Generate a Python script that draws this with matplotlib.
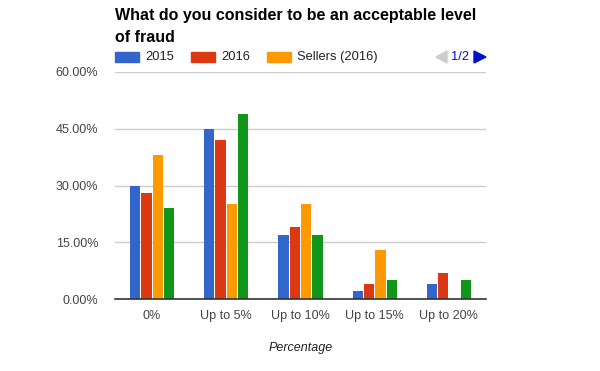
import numpy as np
import matplotlib
matplotlib.use("Agg")
import matplotlib.pyplot as plt
from matplotlib.patches import Rectangle, Polygon

# data
categories = ["0%", "Up to 5%", "Up to 10%", "Up to 15%", "Up to 20%"]
series_names = ["2015", "2016", "Sellers (2016)", "Buyers (2016)"]
v2015 = [30, 45, 17, 2, 4]
v2016 = [28, 42, 19, 4, 7]
sellers2016 = [38, 25, 25, 13, 0]
buyers2016 = [24, 49, 17, 5, 5]
yticks = [0, 15, 30, 45, 60]

colors = ["#3366cc", "#dc3912", "#ff9900", "#109618"]

plt.rcParams["font.family"] = ["Liberation Sans", "DejaVu Sans"]

W, H = 600, 371
fig = plt.figure(figsize=(W / 100, H / 100), dpi=100)
ax = fig.add_axes([115 / W, 1 - 299 / H, 371 / W, 227 / H])

x = np.arange(len(categories))
slot = 0.153
values = [v2015, v2016, sellers2016, buyers2016]
for i, (vals, c) in enumerate(zip(values, colors)):
    ax.bar(x + (i - 1.5) * slot, vals, width=slot - 0.014, color=c, zorder=3)

ax.set_xlim(-0.5, len(categories) - 0.5)
ax.set_ylim(0, 60)
ax.set_yticks(yticks)
ax.set_yticklabels(["%.2f%%" % t for t in yticks])
ax.set_xticks(x)
ax.set_xticklabels(categories)
ax.tick_params(axis="both", length=0, colors="#444444", labelsize=9)
ax.tick_params(axis="y", pad=12)
ax.tick_params(axis="x", pad=8)
ax.grid(axis="y", color="#cccccc", linewidth=1, zorder=0)
for s in ["top", "right", "left"]:
    ax.spines[s].set_visible(False)
ax.spines["bottom"].set_color("#333333")
ax.spines["bottom"].set_linewidth(1.2)
ax.spines["bottom"].set_zorder(4)
ax.set_xlabel("Percentage", fontstyle="italic", color="#222222", fontsize=9, labelpad=14)

# title
fig.text(115 / W, 1 - 8 / H, "What do you consider to be an acceptable level\nof fraud",
         ha="left", va="top", fontsize=11.5, fontweight="bold", linespacing=1.6)

# legend (page 1 of 2)
leg_y = 1 - 57 / H
xs = [115, 191, 267]
for name, c, lx in zip(series_names[:3], colors[:3], xs):
    fig.patches.append(Rectangle((lx / W, leg_y - 5 / H), 24 / W, 10 / H,
                                 transform=fig.transFigure, color=c))
    fig.text((lx + 30) / W, leg_y, name, ha="left", va="center",
             fontsize=9.3, color="#222222")

fig.patches.append(Polygon([[436 / W, leg_y], [447 / W, leg_y + 6 / H], [447 / W, leg_y - 6 / H]],
                           transform=fig.transFigure, color="#cccccc"))
fig.text(460 / W, leg_y, "1/2", ha="center", va="center", fontsize=9.3, color="#0011cc")
fig.patches.append(Polygon([[486 / W, leg_y], [474 / W, leg_y + 6 / H], [474 / W, leg_y - 6 / H]],
                           transform=fig.transFigure, color="#0011cc"))

fig.savefig("out.png", dpi=100, facecolor="white")
